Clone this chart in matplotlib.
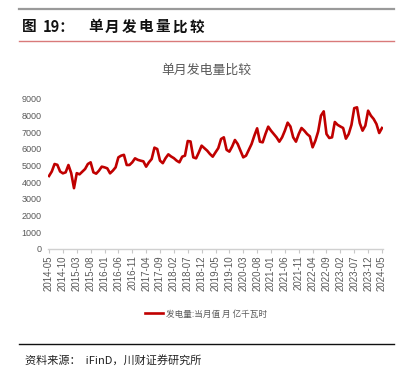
import matplotlib
matplotlib.use("Agg")
import matplotlib.pyplot as plt
from matplotlib import font_manager
from matplotlib.lines import Line2D

# ---------------- data ----------------
months = [f"{y}-{m:02d}" for y in range(2014, 2025) for m in range(1, 13)]
months = months[months.index("2014-05"):months.index("2024-05") + 1]

generation = [
    4380, 4650, 5100, 5050, 4650, 4540, 4600, 5040,                     # 2014-05..12
    4550, 3650, 4550, 4480, 4640, 4800, 5100, 5200, 4600, 4520, 4700, 4940,  # 2015
    4900, 4840, 4540, 4700, 4900, 5500, 5600, 5650, 5040, 5040, 5200, 5440,  # 2016
    5350, 5300, 5260, 4940, 5200, 5400, 6080, 6000, 5300, 5150, 5450, 5680,  # 2017
    5550, 5450, 5300, 5200, 5540, 5600, 6480, 6450, 5500, 5440, 5800, 6200,  # 2018
    6050, 5900, 5700, 5540, 5800, 6050, 6600, 6700, 5950, 5840, 6150, 6540,  # 2019
    6300, 5900, 5500, 5600, 5950, 6300, 6800, 7240, 6440, 6400, 6900, 7340,  # 2020
    7100, 6900, 6700, 6440, 6700, 7100, 7580, 7350, 6700, 6440, 6900, 7260,  # 2021
    7100, 6900, 6760, 6100, 6500, 7050, 8000, 8260, 6900, 6660, 6700, 7620,  # 2022
    7450, 7350, 7260, 6620, 6900, 7450, 8450, 8500, 7550, 7100, 7400, 8300,  # 2023
    8000, 7800, 7500, 6960, 7260,                                       # 2024-01..05
]
tick_labels = months[::5]
y_ticks = list(range(0, 9001, 1000))

fig_title_parts = ["图", "19：", "单月发电量比较"]
chart_title = "单月发电量比较"
series_name = "发电量:当月值 月 亿千瓦时"
source_text = "资料来源：  iFinD，川财证券研究所"

# ---------------- fonts ----------------
available = {f.name for f in font_manager.fontManager.ttflist}
num_font = "Liberation Sans Narrow" if "Liberation Sans Narrow" in available else "Liberation Sans"
CJK = ["Noto Sans CJK SC", "DejaVu Sans"]
NUM = [num_font, "DejaVu Sans"]
plt.rcParams["font.family"] = CJK

W, H = 405, 386
fig = plt.figure(figsize=(W / 100, H / 100), dpi=100)

def fx(px):
    return px / W

def fy(py):
    return 1 - py / H

# header lines
fig.add_artist(Line2D([fx(19), fx(394)], [fy(8.7), fy(8.7)], color="#9a9a9a", lw=1.6))
fig.add_artist(Line2D([fx(19), fx(394)], [fy(41), fy(41)], color="#d97a7a", lw=1.0))

# figure title
fig.text(fx(21.5), fy(26.5), fig_title_parts[0], fontsize=10.5, fontweight="bold",
         color="#111111", va="center", ha="left", family=CJK)
fig.text(fx(43), fy(26.5), fig_title_parts[1], fontsize=10.5, fontweight="bold",
         color="#111111", va="center", ha="left", family=CJK)
for i, ch in enumerate(fig_title_parts[2]):
    fig.text(fx(88 + i * 16.9), fy(26.5), ch, fontsize=10.5, fontweight="bold",
             color="#111111", va="center", ha="left", family=CJK)

# chart title
fig.text(fx(206.5), fy(70), chart_title, fontsize=9.3, color="#595959",
         ha="center", va="center", family=CJK)

# ---------------- axes ----------------
ax = fig.add_axes([fx(47.9), 1 - 249 / H, (383.1 - 47.9) / W, 150 / H])
x = list(range(len(generation)))
line, = ax.plot(x, generation, color="#C00000", lw=1.9, solid_joinstyle="round")
ax.set_xlim(-0.4, len(generation) - 1 + 0.4)
ax.set_ylim(0, 9000)

for s in ["top", "right", "left"]:
    ax.spines[s].set_visible(False)
ax.spines["bottom"].set_color("#d0d0d0")
ax.spines["bottom"].set_linewidth(1.0)

ax.set_yticks(y_ticks)
ax.set_yticklabels([str(v) for v in y_ticks], family=NUM, fontsize=6.5, color="#595959")
ax.tick_params(axis="y", length=0, pad=4.5)

ax.set_xticks(list(range(0, len(generation), 5)))
ax.set_xticklabels(tick_labels, rotation=90, family=NUM, fontsize=7, color="#595959")
ax.tick_params(axis="x", length=3, width=0.8, color="#c8c8c8", pad=1.5)

# legend
fig.legend([line], [series_name], loc="center", bbox_to_anchor=(fx(206), fy(314)),
           frameon=False, handlelength=2.2, handletextpad=0.35,
           labelcolor="#595959", prop={"family": CJK, "size": 6.2})

# bottom rule and source
fig.add_artist(Line2D([fx(19), fx(394)], [fy(344), fy(344)], color="#111111", lw=1.0))
fig.text(fx(25), fy(360), source_text, fontsize=8, style="italic", color="#222222",
         ha="left", va="center", family=CJK)

fig.savefig("out.png", dpi=100)
